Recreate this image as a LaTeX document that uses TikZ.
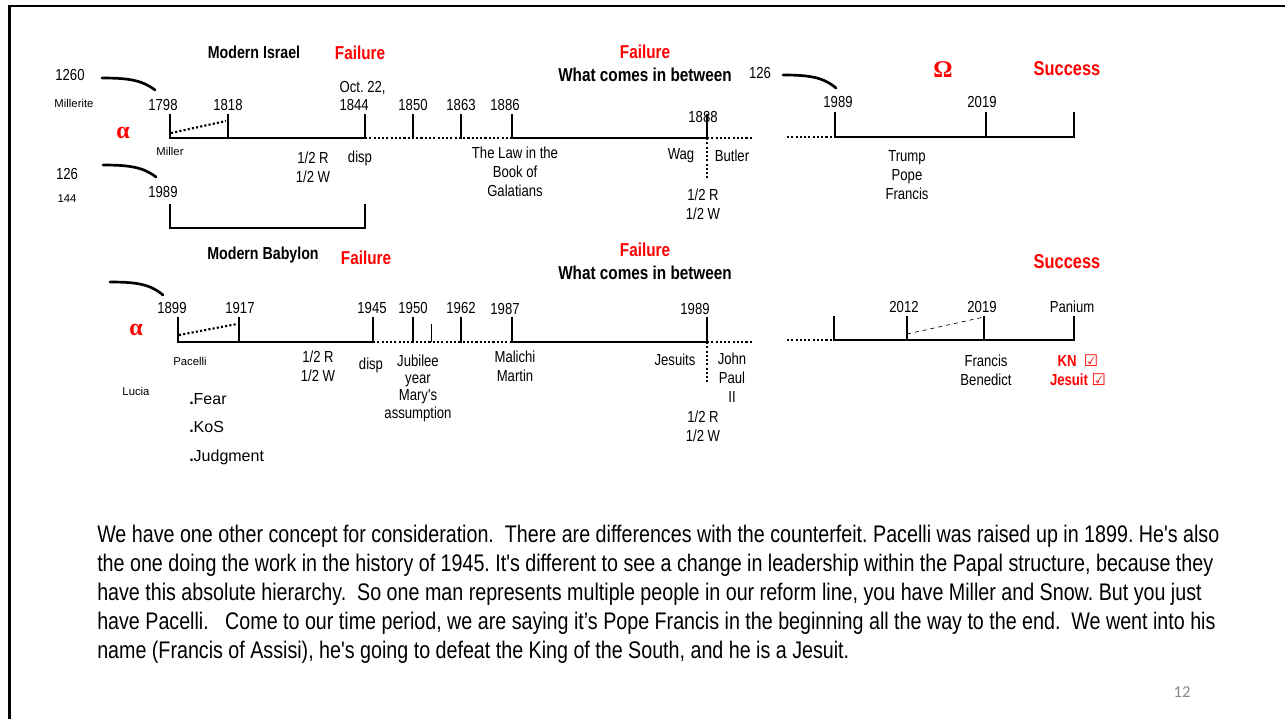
\documentclass[tikz,border=0pt]{standalone}
\usepackage{fontspec}
\setmainfont{Liberation Sans}
\newfontfamily\narrow[FakeStretch=0.82]{Liberation Sans}
\newfontfamily\greekfont{Liberation Serif}
\newfontfamily\boxfont{DejaVu Sans}
\newfontfamily\numfont{Carlito}
\usetikzlibrary{positioning, calc}
\definecolor{pagegray}{RGB}{137,137,137}
\frenchspacing

\tikzset{
  year/.style={font=\narrow\fontsize{12}{14.25}\selectfont, inner sep=1pt},
  note/.style={font=\narrow\fontsize{12}{14.25}\selectfont, align=center, inner sep=1pt},
  small/.style={font=\fontsize{8.5}{10}\selectfont, inner sep=1pt},
  head/.style={font=\narrow\bfseries\fontsize{13}{15}\selectfont, inner sep=1pt},
  between/.style={font=\narrow\bfseries\fontsize{14}{16}\selectfont, inner sep=1pt},
  verdict/.style={font=\narrow\bfseries\fontsize{14}{16}\selectfont, text=red, inner sep=1pt},
  success/.style={font=\narrow\bfseries\fontsize{15}{17}\selectfont, text=red, inner sep=1pt},
  greek/.style={font=\greekfont\bfseries\fontsize{18}{20}\selectfont, text=red, inner sep=1pt},
  body/.style={font=\narrow\fontsize{18}{21.75}\selectfont, align=left, inner sep=0pt},
  axis/.style={line width=1.6pt, line cap=rect},
  gap/.style={line width=1.6pt, dash pattern=on 1.6pt off 1.6pt},
  hook/.style={line width=2pt, line cap=round},
  frame/.style={line width=2pt},
}

\begin{document}
\begin{tikzpicture}[x=0.75pt, y=-0.75pt]
\useasboundingbox (0,0) rectangle (1285,719);

% frame
\coordinate (frameR) at (1285,6);
\coordinate (corner) at (9.5,6);
\coordinate (frameB) at (9.5,719);
\draw[frame] (frameR) -- (corner) -- (frameB);

% Modern Israel
\node[head] (israel) at (254,52) {Modern Israel};
\node[verdict] (fail1) at (360,53) {Failure};
\node[verdict] (fail2) at (645,52) {Failure};
\node[between] (between1) at (645,75) {What comes in between};
\node[greek] (omega) at (943,70) {Ω};
\node[success] (succ1) at (1067,69) {Success};

\node[year] (n1260) at (70,75) {1260};
\node[small] (millerite) at (74,103) {Millerite};
\node[greek] (alpha1) at (123,133) {α};
\node[year] (n126a) at (67,174) {126};
\node[small] (n144) at (67,199) {144};
\node[year] (n126b) at (760,73) {126};

\coordinate (i1798) at (170,138);
\coordinate (i1818) at (228,138);
\coordinate (i1844) at (365,138);
\coordinate (i1850) at (413,138);
\coordinate (i1863) at (461,138);
\coordinate (i1886) at (512,138);
\coordinate (i1888) at (707,138);
\coordinate (iend) at (752,138);

\draw[axis] (i1798) -- (i1844);
\draw[gap] (i1844) -- (i1886);
\draw[axis] (i1886) -- (i1888);
\draw[gap] (i1888) -- (iend);
\foreach \c in {i1798,i1818,i1844,i1850,i1863,i1886,i1888}
  \draw[axis] (\c) -- ++(0,-23);
\draw[gap] ($(i1798)+(1,-5)$) -- ($(i1818)+(-2,-17)$);
\draw[gap] (i1888) -- ++(0,40);

\node[year] (y1798) at (163,105) {1798};
\node[year] (y1818) at (228,105) {1818};
\node[year, anchor=west] (y1844) at (338,105) {1844};
\node[year, above=1pt of y1844.north west, anchor=south west] (oct) {Oct. 22,};
\node[year] (y1850) at (413,105) {1850};
\node[year] (y1863) at (461,105) {1863};
\node[year] (y1886) at (505,105) {1886};
\node[year] (y1888) at (703,117) {1888};

\node[small] (miller) at (170,151) {Miller};
\node[note] (half1) at (313,167) {1/2 R\\1/2 W};
\node[note] (disp1) at (360,158) {disp};
\node[note] (law) at (515,172) {The Law in the\\Book of\\Galatians};
\node[note] (wag) at (681,156) {Wag};
\node[note] (butler) at (732,156) {Butler};
\node[note] (half2) at (703,204) {1/2 R\\1/2 W};

% hooks
\coordinate (h1a) at (102,78);  \coordinate (h1b) at (155,90);
\coordinate (h2a) at (103,165); \coordinate (h2b) at (156,177);
\coordinate (h3a) at (783,75);  \coordinate (h3b) at (836,88);
\coordinate (h4a) at (110,282); \coordinate (h4b) at (163,295);
\draw[hook] (h1a) .. controls (128,78) and (142,80) .. (h1b);
\draw[hook] (h2a) .. controls (129,165) and (143,167) .. (h2b);
\draw[hook] (h3a) .. controls (809,75) and (823,77) .. (h3b);
\draw[hook] (h4a) .. controls (136,282) and (150,284) .. (h4b);

% 1989 bracket
\node[year] (y1989a) at (163,192) {1989};
\coordinate (k1) at (170,205);
\coordinate (k2) at (170,228);
\coordinate (k3) at (365,228);
\coordinate (k4) at (365,205);
\draw[axis] (k1) -- (k2) -- (k3) -- (k4);

% right, top
\coordinate (r0) at (787,137);
\coordinate (r1989) at (835,137);
\coordinate (r2019) at (986,137);
\coordinate (rend) at (1074,137);
\draw[gap] (r0) -- (r1989);
\draw[axis] (r1989) -- (rend);
\foreach \c in {r1989,r2019,rend}
  \draw[axis] (\c) -- ++(0,-24);
\node[year] (y1989b) at (838,102) {1989};
\node[year] (y2019a) at (982,102) {2019};
\node[note] (trump) at (907,175) {Trump\\Pope\\Francis};

% Modern Babylon
\node[head] (babylon) at (263,255) {Modern Babylon};
\node[verdict] (fail3) at (366,258) {Failure};
\node[verdict] (fail4) at (645,250) {Failure};
\node[between] (between2) at (645,273) {What comes in between};
\node[success] (succ2) at (1067,262) {Success};
\node[greek] (alpha2) at (136,330) {α};

\coordinate (b1899) at (178,342);
\coordinate (b1917) at (239,342);
\coordinate (b1945) at (373,342);
\coordinate (b1950) at (413,342);
\coordinate (bmark) at (431,342);
\coordinate (b1962) at (461,342);
\coordinate (b1987) at (512,342);
\coordinate (b1989) at (707,342);
\coordinate (bend) at (753,342);

\draw[axis] (b1899) -- (b1945);
\draw[gap] (b1945) -- (b1987);
\draw[axis] (b1987) -- (b1989);
\draw[gap] (b1989) -- (bend);
\foreach \c in {b1899,b1917,b1945,b1950,b1962,b1987,b1989}
  \draw[axis] (\c) -- ++(0,-24);
\draw[line width=0.6pt] (bmark) -- ++(0,-18);
\draw[gap] ($(b1899)+(1,-7)$) -- ($(b1917)+(-2,-18)$);
\draw[gap] (b1989) -- ++(0,40);

\node[year] (y1899) at (172,308) {1899};
\node[year] (y1917) at (240,308) {1917};
\node[year] (y1945) at (372,308) {1945};
\node[year] (y1950) at (413,308) {1950};
\node[year] (y1962) at (461,308) {1962};
\node[year] (y1987) at (505,309) {1987};
\node[year] (y1989c) at (695,309) {1989};

\node[small] (pacelli) at (190,361) {Pacelli};
\node[small] (lucia) at (136,391) {Lucia};
\node[font=\fontsize{12}{21.4}\selectfont, align=left, anchor=north west, inner sep=0pt] (fear) at (189,393)
  {\textbf{.}Fear\\\textbf{.}KoS\\\textbf{.}Judgment};
\node[note] (half3) at (318,366) {1/2 R\\1/2 W};
\node[note] (disp2) at (371,365) {disp};
\node[note, font=\narrow\fontsize{12}{13}\selectfont] (jubilee) at (418,388) {Jubilee\\year\\Mary's\\assumption};
\node[note] (malichi) at (515,366) {Malichi\\Martin};
\node[note] (jesuits) at (675,360) {Jesuits};
\node[note] (jpii) at (732,378) {John\\Paul\\II};
\node[note] (half4) at (703,426) {1/2 R\\1/2 W};

% right, bottom
\coordinate (s0) at (787,340);
\coordinate (s2012start) at (834,340);
\coordinate (s2012) at (907,340);
\coordinate (s2019) at (984,340);
\coordinate (send) at (1074,340);
\draw[gap] (s0) -- (s2012start);
\draw[axis] (s2012start) -- (send);
\foreach \c in {s2012start,s2012,s2019,send}
  \draw[axis] (\c) -- ++(0,-23);
\draw[dashed, line width=0.5pt] ($(s2012)+(0,-6)$) -- ($(s2019)+(0,-23)$);
\node[year] (y2012) at (904,307) {2012};
\node[year] (y2019b) at (982,307) {2019};
\node[year] (panium) at (1072,307) {Panium};
\node[note] (francis) at (986,370) {Francis\\Benedict};
\node[note, text=red, font=\narrow\bfseries\fontsize{12}{14.25}\selectfont] (checks) at (1078,370)
  {KN \ {\boxfont\mdseries ☑}\\Jesuit {\boxfont\mdseries ☑}};

% talk
\node[body, anchor=north west] (talk) at (97,525) {We have one other concept for consideration.\ \ There are differences with the counterfeit. Pacelli was raised up in 1899. He's also\\
the one doing the work in the history of 1945. It's different to see a change in leadership within the Papal structure, because they\\
have this absolute hierarchy.\ \ So one man represents multiple people in our reform line, you have Miller and Snow. But you just\\
have Pacelli.\ \ \ Come to our time period, we are saying it’s Pope Francis in the beginning all the way to the end.\ \ We went into his\\
name (Francis of Assisi), he's going to defeat the King of the South, and he is a Jesuit.};

\node[font=\numfont\fontsize{12.5}{14}\selectfont, text=pagegray] (slideno) at (1182,692) {12};
\end{tikzpicture}
\end{document}
